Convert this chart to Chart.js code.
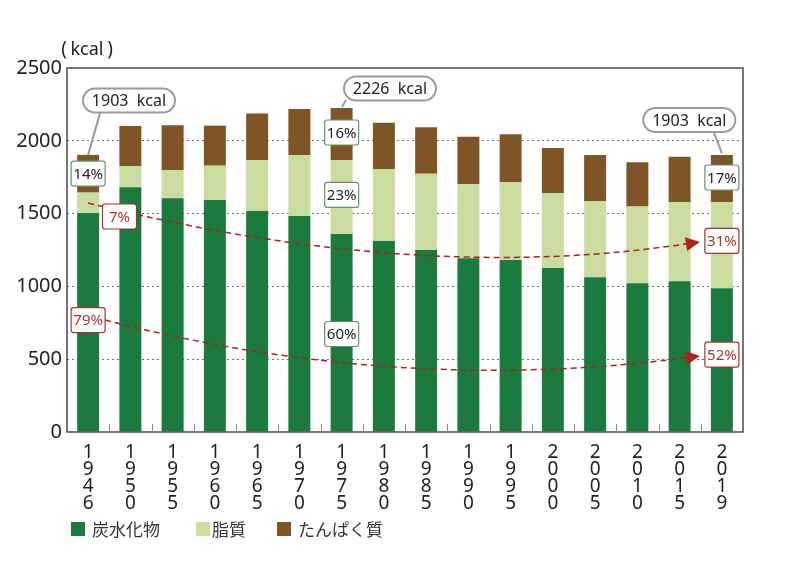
<!DOCTYPE html>
<html>
<head>
<meta charset="utf-8">
<script src="https://cdn.jsdelivr.net/npm/chart.js@4.4.0/dist/chart.umd.min.js"></script>
<style>
html,body{margin:0;padding:0;background:#fff;}
canvas{display:block;}
</style>
</head>
<body>
<canvas id="c" width="800" height="566"></canvas>
<script>
// ---- data ----
const categories = ['1946','1950','1955','1960','1965','1970','1975','1980','1985','1990','1995','2000','2005','2010','2015','2019'];
const carbs   = [1504,1681,1605,1593,1518,1483,1360,1312,1250,1193,1181,1126,1062,1021,1035,988];
const fat     = [140,146,194,236,350,419,508,492,524,508,536,515,525,527,545,592];
const protein = [259,275,307,275,320,316,358,320,319,327,328,309,316,304,311,323];
const seriesNames = ['炭水化物','脂質','たんぱく質'];
const yTicks = [0,500,1000,1500,2000,2500];
const unitParts = ['(','kcal',')'];

// annotation texts anchored at (category index, value)
const totalCallouts = [
  {text:'1903  kcal', box:[0.967,2277], from:[0.281,2191], to:[0,1903]},
  {text:'2226  kcal', box:[7.145,2359], from:[6.104,2280], to:[6.009,2232]},
  {text:'1903  kcal', box:[14.23,2143], from:[14.81,2060], to:[15,1916]}
];
const pctLabels = [
  {text:'14%', at:[0,1775], kind:'g'},
  {text:'7%',  at:[0.743,1480], kind:'r'},
  {text:'79%', at:[0,769], kind:'r'},
  {text:'16%', at:[6,2057], kind:'g'},
  {text:'23%', at:[6,1628], kind:'g'},
  {text:'60%', at:[6,673], kind:'g'},
  {text:'17%', at:[15,1748], kind:'g'},
  {text:'31%', at:[15,1312], kind:'r'},
  {text:'52%', at:[15,532], kind:'r'}
];
const trendCurves = [
  [[0,1573],[7.855,1006],[14.48,1305]],
  [[0.4,769],[7.38,247],[14.48,522]]
];

const colors = ['#1b7a3e','#cadc9f','#7f5427'];
const NUM_FONT = '"Noto Sans", "DejaVu Sans", sans-serif';
const JP_FONT = '"Noto Sans CJK JP", "Noto Sans", sans-serif';

function rr(ctx,x,y,w,h,r){
  ctx.beginPath();
  ctx.moveTo(x+r,y);
  ctx.lineTo(x+w-r,y);ctx.arcTo(x+w,y,x+w,y+r,r);
  ctx.lineTo(x+w,y+h-r);ctx.arcTo(x+w,y+h,x+w-r,y+h,r);
  ctx.lineTo(x+r,y+h);ctx.arcTo(x,y+h,x,y+h-r,r);
  ctx.lineTo(x,y+r);ctx.arcTo(x,y,x+r,y,r);
  ctx.closePath();
}

const decor = {
  id:'decor',
  afterDatasetsDraw(chart){
    const ctx = chart.ctx, a = chart.chartArea;
    const xs = chart.scales.x, ys = chart.scales.y;
    const P = p => [xs.getPixelForValue(p[0]), ys.getPixelForValue(p[1])];
    ctx.save();
    // plot frame
    ctx.strokeStyle = '#4a4a4a'; ctx.lineWidth = 1.5;
    ctx.strokeRect(a.left, a.top, a.right-a.left, a.bottom-a.top);
    // small separators between categories
    ctx.strokeStyle = '#8a8a8a'; ctx.lineWidth = 1;
    for(let i=1;i<categories.length;i++){
      const x = Math.round(xs.getPixelForValue(i-0.5))+0.5;
      ctx.beginPath(); ctx.moveTo(x,a.bottom-8); ctx.lineTo(x,a.bottom); ctx.stroke();
    }
    // trend curves
    trendCurves.forEach(c=>{
      const p0=P(c[0]), p1=P(c[1]), p2=P(c[2]);
      ctx.strokeStyle='#b0201c'; ctx.lineWidth=1.5; ctx.setLineDash([6,4]);
      ctx.beginPath(); ctx.moveTo(p0[0],p0[1]); ctx.quadraticCurveTo(p1[0],p1[1],p2[0]-8,p2[1]+1); ctx.stroke();
      ctx.setLineDash([]);
      const ang = Math.atan2(p2[1]-p1[1], p2[0]-p1[0]);
      const L=14, W=7;
      ctx.fillStyle='#b0201c';
      ctx.beginPath();
      ctx.moveTo(p2[0],p2[1]);
      ctx.lineTo(p2[0]-L*Math.cos(ang)+W*Math.sin(ang), p2[1]-L*Math.sin(ang)-W*Math.cos(ang));
      ctx.lineTo(p2[0]-L*Math.cos(ang)-W*Math.sin(ang), p2[1]-L*Math.sin(ang)+W*Math.cos(ang));
      ctx.closePath(); ctx.fill();
    });
    // percentage boxes
    ctx.font = '15px '+NUM_FONT;
    ctx.textAlign='center'; ctx.textBaseline='middle';
    pctLabels.forEach(l=>{
      const p=P(l.at), w=34, h=25;
      rr(ctx,p[0]-w/2,p[1]-h/2,w,h,2.5);
      ctx.fillStyle='#fff'; ctx.fill();
      ctx.lineWidth=1.2; ctx.strokeStyle = l.kind==='g' ? '#5f9868' : '#a8332e'; ctx.stroke();
      ctx.fillStyle = l.kind==='g' ? '#222' : '#a8332e';
      ctx.fillText(l.text,p[0],p[1]+1);
    });
    // total callouts
    ctx.font = '16px '+NUM_FONT;
    totalCallouts.forEach(c=>{
      const f=P(c.from), t=P(c.to), b=P(c.box);
      ctx.strokeStyle='#9a9a9a'; ctx.lineWidth=2;
      ctx.beginPath(); ctx.moveTo(f[0],f[1]); ctx.lineTo(t[0],t[1]); ctx.stroke();
      const w=92,h=24;
      rr(ctx,b[0]-w/2,b[1]-h/2,w,h,12);
      ctx.fillStyle='#fff'; ctx.fill(); ctx.stroke();
      ctx.fillStyle='#222';
      ctx.fillText(c.text,b[0],b[1]+1);
    });
    // unit label
    ctx.fillStyle='#222';
    ctx.textAlign='center';
    ctx.font = '19px '+NUM_FONT;
    ctx.fillText(unitParts[0], a.left-3, a.top-18);
    ctx.fillText(unitParts[2], a.left+43, a.top-18);
    ctx.font = '18px '+NUM_FONT;
    ctx.fillText(unitParts[1], a.left+20, a.top-18);
    // legend
    ctx.textAlign='left';
    const legX=[71,196,277], txtX=[92,212,298];
    ctx.font='17px '+JP_FONT;
    seriesNames.forEach((n,i)=>{
      ctx.fillStyle=colors[i];
      ctx.fillRect(legX[i],522,14,14);
      ctx.fillStyle='#333';
      ctx.fillText(n,txtX[i],530);
    });
    ctx.restore();
  }
};

new Chart(document.getElementById('c'),{
  type:'bar',
  data:{
    labels: categories.map(c=>c.split('')),
    datasets:[
      {label:seriesNames[0], data:carbs, backgroundColor:colors[0]},
      {label:seriesNames[1], data:fat, backgroundColor:colors[1]},
      {label:seriesNames[2], data:protein, backgroundColor:colors[2]}
    ]
  },
  options:{
    responsive:false,
    animation:false,
    events:[],
    layout:{padding:{left:0,right:57,top:68,bottom:0}},
    datasets:{bar:{categoryPercentage:1,barPercentage:0.52}},
    plugins:{legend:{display:false},tooltip:{enabled:false},title:{display:false}},
    scales:{
      x:{
        stacked:true,
        grid:{display:false},
        border:{display:false},
        ticks:{font:{family:NUM_FONT,size:19,lineHeight:0.9},color:'#222',padding:4,maxRotation:0,autoSkip:false},
        afterFit(s){s.height=134;}
      },
      y:{
        stacked:true,
        min:0,max:2500,
        afterBuildTicks(s){s.ticks=yTicks.map(v=>({value:v}));},
        grid:{drawTicks:false,color:ctx=>(ctx.tick&&(ctx.tick.value===0||ctx.tick.value===2500))?'rgba(0,0,0,0)':'#707070',lineWidth:1},
        border:{display:false,dash:[2,3]},
        ticks:{font:{family:NUM_FONT,size:20},color:'#222',padding:5,callback:v=>String(v)},
        afterFit(s){s.width=67;}
      }
    }
  },
  plugins:[decor]
});
</script>
</body>
</html>
